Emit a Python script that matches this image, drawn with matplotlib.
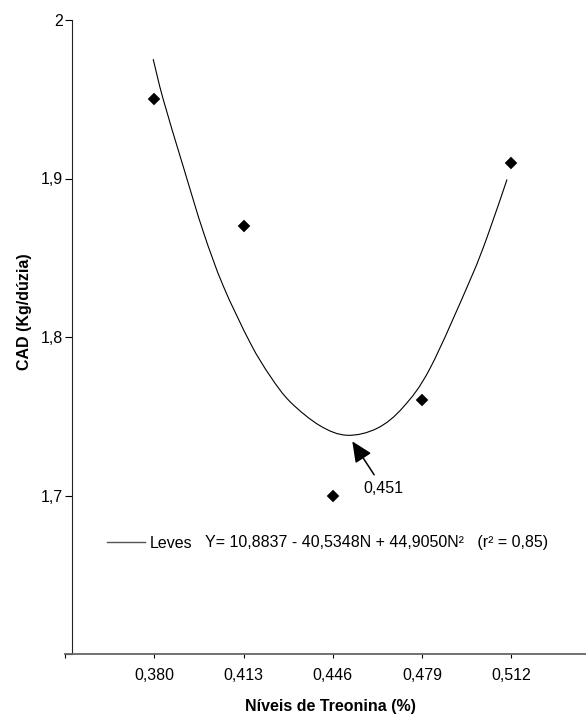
import numpy as np
import matplotlib
matplotlib.use('Agg')
import matplotlib.pyplot as plt
from matplotlib.lines import Line2D
from matplotlib.path import Path
from matplotlib.patches import PathPatch

plt.rcParams['font.family'] = ['Liberation Sans', 'DejaVu Sans']

# observed points
niveis = [0.380, 0.413, 0.446, 0.479, 0.512]
cad = [1.95, 1.87, 1.70, 1.76, 1.91]

# regression curve
curva_x = [0.3796, 0.3833, 0.3907, 0.3981, 0.4055, 0.4155, 0.4229, 0.4303,
           0.4413, 0.4513, 0.4624, 0.4720, 0.4820, 0.4968, 0.5031, 0.5104]
curva_y = [1.9753, 1.9500, 1.9076, 1.8665, 1.8322, 1.7962, 1.7752, 1.7590,
           1.7440, 1.7380, 1.7424, 1.7557, 1.7804, 1.8361, 1.8633, 1.8994]

xticks = [0.347, 0.380, 0.413, 0.446, 0.479, 0.512]
xticklabels = ['', '0,380', '0,413', '0,446', '0,479', '0,512']
yticks = [1.6, 1.7, 1.8, 1.9, 2.0]
yticklabels = ['', '1,7', '1,8', '1,9', '2']

equacao = 'Y= 10,8837 - 40,5348N + 44,9050N\u00b2   (r\u00b2 = 0,85)'


def smooth_path(xs, ys):
    # smoothed line through the points (catmull-rom drawn as bezier)
    p = np.column_stack([xs, ys])
    p = np.vstack([p[0], p, p[-1]])
    verts = [p[1]]
    codes = [Path.MOVETO]
    for i in range(1, len(p) - 2):
        c1 = p[i] + (p[i+1] - p[i-1]) / 6
        c2 = p[i+1] - (p[i+2] - p[i]) / 6
        verts += [c1, c2, p[i+1]]
        codes += [Path.CURVE4] * 3
    return Path(verts, codes)


W, H = 586, 717
fig = plt.figure(figsize=(W/100, H/100), dpi=100)
ax = fig.add_axes([65/W, (H-654)/H, 521/W, 634/H])

ax.add_patch(PathPatch(smooth_path(curva_x, curva_y), fc='none',
                       ec='black', lw=0.8))
ax.plot(niveis, cad, ls='none', marker='D', ms=6, color='black', mew=0.3)

ax.set_xlim(0.3471, 0.5396)
ax.set_ylim(1.6, 2.0)

ax.spines['top'].set_visible(False)
ax.spines['right'].set_visible(False)
ax.spines['left'].set_position(('data', 0.3497))
ax.spines['left'].set_color('#222222')
ax.spines['bottom'].set_color('#666666')
ax.spines['bottom'].set_linewidth(1.3)

ax.set_xticks(xticks)
ax.set_xticklabels(xticklabels)
ax.set_yticks(yticks)
ax.set_yticklabels(yticklabels)
ax.tick_params(axis='x', direction='out', length=3, width=0.8, pad=7,
               labelsize=11.5, colors='black')
ax.tick_params(axis='y', direction='out', length=5, width=0.8, pad=2,
               labelsize=11.5, colors='black')

ax.annotate('0,451', xy=(0.4532, 1.7342), xytext=(0.4646, 1.7044),
            ha='center', va='center', fontsize=11.5,
            arrowprops=dict(arrowstyle='-|>,head_length=1.1,head_width=0.5',
                            color='black', lw=1.1, shrinkA=3, shrinkB=0))

handle = Line2D([], [], color='#555555', lw=1.0)
ax.legend([handle], ['Leves'], loc='center left',
          bbox_to_anchor=((107-65)/521, (654-543)/634), frameon=False,
          borderpad=0, borderaxespad=0, handlelength=2.4, handletextpad=0.3,
          fontsize=11.5)
ax.text((205-65)/521, (654-543)/634, equacao, transform=ax.transAxes,
        ha='left', va='center', fontsize=11.5)

fig.text(25/W, 1-312/H, 'CAD (Kg/dúzia)', rotation=90, ha='center',
         va='center', fontsize=11.5, fontweight='bold')
fig.text(330/W, 1-707/H, 'Níveis de Treonina (%)', ha='center',
         va='center', fontsize=11.5, fontweight='bold')

fig.savefig('out.png', dpi=100)
